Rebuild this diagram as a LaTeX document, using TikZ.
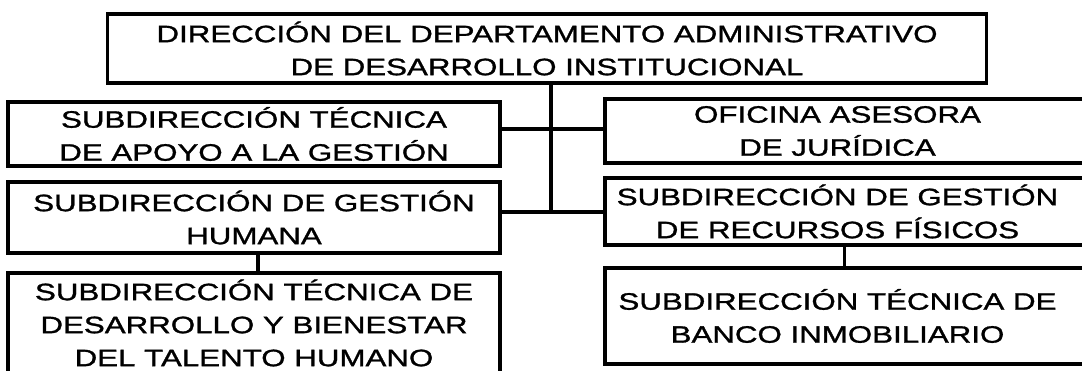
\documentclass[tikz,border=0pt]{standalone}
\usepackage{fontspec}
\setmainfont{Liberation Sans}[FakeStretch=1.32,FakeBold=1.2]
\begin{document}
\begin{tikzpicture}[x=1pt,y=-1pt,line width=3.2pt]
\tikzset{unit/.style={draw, rectangle, align=center, inner sep=0pt,
  font=\fontsize{23.7}{33}\selectfont}}
\useasboundingbox (0,0) rectangle (1082,370);
\coordinate (J) at (551,212);
\coordinate (R) at (551,129);

% left column and head
\node[unit, minimum width=879pt, minimum height=69pt] (dir) at (547,48.5)
  {DIRECCIÓN DEL DEPARTAMENTO ADMINISTRATIVO\\DE DESARROLLO INSTITUCIONAL};
\node[unit, minimum width=492pt, minimum height=64pt] (apoyo) at (254,134)
  {SUBDIRECCIÓN TÉCNICA\\DE APOYO A LA GESTIÓN};
\node[unit, minimum width=492pt, minimum height=71pt] (humana) at (254,217.5)
  {SUBDIRECCIÓN DE GESTIÓN\\HUMANA};
\node[unit, minimum width=492pt, minimum height=100pt] (talento) at (254,323)
  {SUBDIRECCIÓN TÉCNICA DE\\DESARROLLO Y BIENESTAR\\DEL TALENTO HUMANO};

% right column (runs past the edge)
\node[unit, minimum width=495pt, minimum height=64pt] (juridica) at (852.5,131)
  {OFICINA ASESORA\hspace*{30pt}\\DE JURÍDICA\hspace*{30pt}};
\node[unit, minimum width=495pt, minimum height=67pt] (fisicos) at (852.5,211.5)
  {SUBDIRECCIÓN DE GESTIÓN\hspace*{30pt}\\DE RECURSOS FÍSICOS\hspace*{30pt}};
\node[unit, minimum width=495pt, minimum height=96pt] (banco) at (852.5,316)
  {SUBDIRECCIÓN TÉCNICA DE\hspace*{30pt}\\BANCO INMOBILIARIO\hspace*{30pt}};

\draw (dir.south -| J) -- (J);
\draw (R -| apoyo.east) -- (R -| juridica.west);
\draw (J -| humana.east) -- (J -| fisicos.west);
\draw ([xshift=4pt]humana.south) -- ([xshift=4pt]talento.north);
\draw ([xshift=-8pt]fisicos.south) -- ([xshift=-8pt]banco.north);
\end{tikzpicture}
\end{document}
